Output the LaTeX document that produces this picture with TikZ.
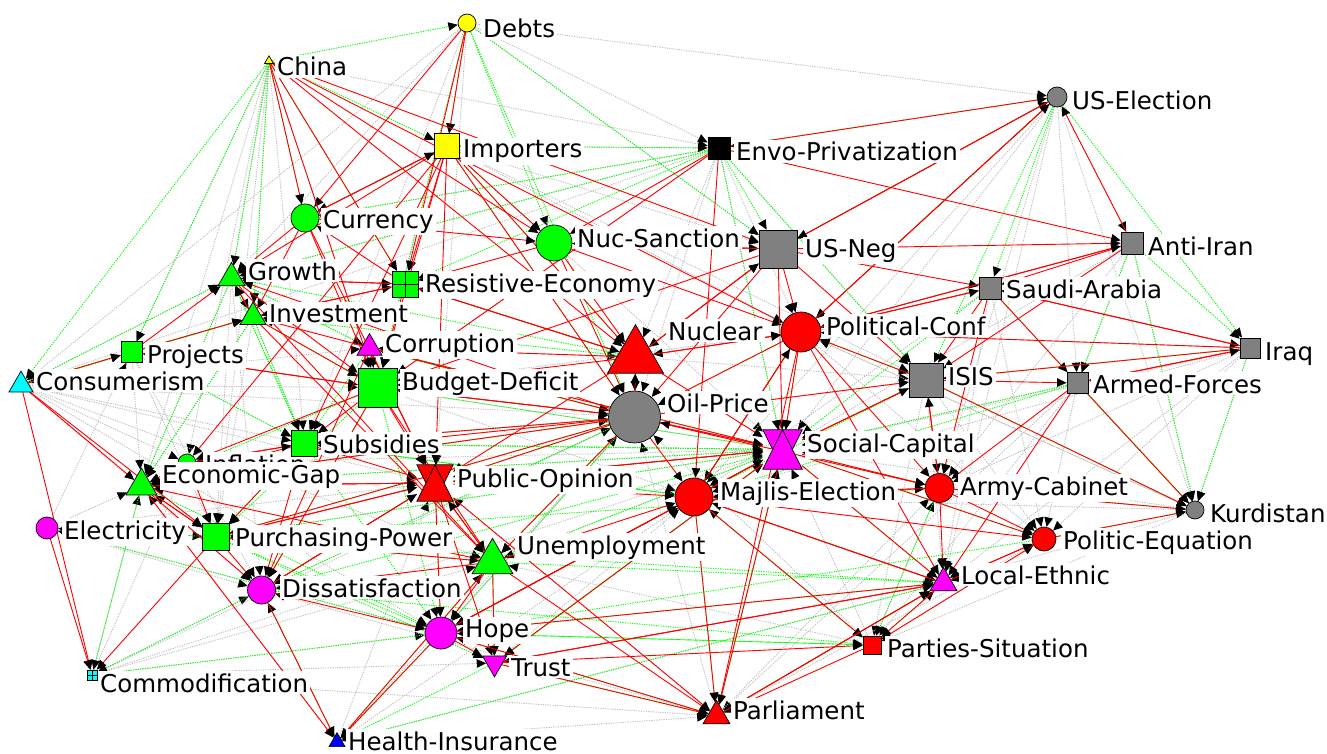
\documentclass[tikz,border=0pt]{standalone}
\usepackage{fontspec}
\setmainfont{DejaVu Sans}
\usetikzlibrary{shapes.geometric,arrows.meta}
\definecolor{nRed}{RGB}{255,0,0}
\definecolor{nGreen}{RGB}{0,255,0}
\definecolor{nGray}{RGB}{128,128,128}
\definecolor{nYellow}{RGB}{255,255,0}
\definecolor{nMagenta}{RGB}{255,0,255}
\definecolor{nCyan}{RGB}{0,255,255}
\definecolor{nBlue}{RGB}{0,0,255}
\definecolor{eGray}{RGB}{190,190,190}
\pgfdeclarelayer{edges}
\pgfsetlayers{edges,main}
\begin{document}
\begin{tikzpicture}[x=1pt,y=-1pt,
 circ/.style={circle,draw,line width=0.7pt,inner sep=0pt,minimum size=#1},
 sq/.style={rectangle,draw,line width=0.7pt,inner sep=0pt,minimum size=#1},
 tri/.style={regular polygon,regular polygon sides=3,draw,line width=0.7pt,inner sep=0pt,minimum size={1.1547*#1}},
 hg/.style={rectangle,inner sep=0pt,minimum width=#1,minimum height=#1},
 lab/.style={anchor=base west,fill=white,inner sep=2pt,font={\fontsize{24.5}{26}\selectfont}},
 edgetip/.style={-{Triangle[length=9.5pt,width=8.5pt,color=black]}},
 redE/.style={edgetip,draw=nRed,line width=0.9pt},
 greenE/.style={edgetip,draw=nGreen,line width=0.9pt,dash pattern=on 1.2pt off 1.2pt},
 grayE/.style={edgetip,draw=eGray,line width=0.9pt,dash pattern=on 1.2pt off 1.2pt}]
 \useasboundingbox (0,0) rectangle (1327,754);
 \node[circ=18,fill=nGreen] (infl) at (187,463) {};
 \node[lab] (infl-l) at (203,473) {Inflation};
 \node[circ=18,fill=nYellow] (debt) at (467,23) {};
 \node[tri=9,fill=nYellow] (china) at (269,61) {};
 \node[sq=25,fill=nYellow] (imp) at (447,146) {};
 \node[sq=22,fill=black] (envo) at (719,148) {};
 \node[circ=20,fill=nGray] (usel) at (1057,97) {};
 \node[circ=28,fill=nGreen] (cur) at (305,218) {};
 \node[circ=36,fill=nGreen] (nucs) at (554,243) {};
 \node[sq=38,fill=nGray] (usneg) at (778,249) {};
 \node[sq=22,fill=nGray] (anti) at (1132,243) {};
 \node[tri=27,fill=nGreen] (grow) at (231.5,278) {};
 \node[sq=26,fill=nGreen] (resi) at (405,284) {};
 \node[sq=22,fill=nGray] (saudi) at (990,288) {};
 \node[tri=26,fill=nGreen] (inv) at (253,317) {};
 \node[tri=56,fill=nRed] (nuc) at (635.5,357) {};
 \node[circ=40,fill=nRed] (pconf) at (801,332) {};
 \node[tri=25,fill=nMagenta] (corr) at (369.5,348) {};
 \node[sq=21,fill=nGreen] (proj) at (131.5,352) {};
 \node[sq=20,fill=nGray] (iraq) at (1250,348) {};
 \node[tri=24,fill=nCyan] (cons) at (21,385) {};
 \node[sq=39,fill=nGreen] (budg) at (377.5,387.5) {};
 \node[sq=34,fill=nGray] (isis) at (926,380) {};
 \node[sq=21,fill=nGray] (armed) at (1077.5,383) {};
 \node[circ=52,fill=nGray] (oil) at (634.5,417) {};
 \node[sq=26,fill=nGreen] (subs) at (304.5,443.5) {};
 \node[hg=39] (soc) at (782.5,449.5) {};
 \node[tri=31,fill=nGreen] (egap) at (141.5,486) {};
 \node[hg=36] (pop) at (435,483) {};
 \node[circ=38,fill=nRed] (majl) at (694,497) {};
 \node[circ=29,fill=nRed] (army) at (939.5,488) {};
 \node[circ=18,fill=nGray] (kurd) at (1195,510) {};
 \node[circ=22,fill=nMagenta] (elec) at (47,528) {};
 \node[sq=27,fill=nGreen] (ppow) at (216,537) {};
 \node[circ=24,fill=nRed] (peq) at (1044,539) {};
 \node[tri=41,fill=nGreen] (unemp) at (492.5,562) {};
 \node[tri=27,fill=nMagenta] (local) at (943.5,583) {};
 \node[circ=28,fill=nMagenta] (diss) at (261.5,590) {};
 \node[circ=32,fill=nMagenta] (hope) at (441,633) {};
 \node[sq=18,fill=nRed] (party) at (872,645) {};
 \node[tri=24,fill=nMagenta,shape border rotate=180] (trust) at (494.5,663) {};
 \node[sq=10,fill=nCyan] (comm) at (92,675) {};
 \node[tri=27,fill=nRed] (parl) at (716.5,716) {};
 \node[tri=16,fill=nBlue] (health) at (337,742) {};
 \draw[fill=nMagenta,line width=0.7pt] (soc.north west) -- (soc.north east) -- (soc.south) -- cycle;
 \draw[fill=nMagenta,line width=0.7pt] (soc.south west) -- (soc.south east) -- (soc.north) -- cycle;
 \draw[fill=nRed,line width=0.7pt] (pop.north west) -- (pop.north east) -- (pop.south) -- cycle;
 \draw[fill=nRed,line width=0.7pt] (pop.south west) -- (pop.south east) -- (pop.north) -- cycle;
 \draw[line width=0.7pt] (resi.north) -- (resi.south) (resi.west) -- (resi.east);
 \draw[line width=0.5pt] (comm.north) -- (comm.south) (comm.west) -- (comm.east);
 \begin{pgfonlayer}{edges}
 \foreach \a/\b in {debt/usel,debt/grow,debt/budg,debt/pop,debt/envo,debt/usneg,debt/subs,debt/cons,
  china/envo,china/proj,china/egap,china/subs,china/infl,china/grow,china/inv,china/budg,china/ppow,
  imp/pconf,imp/usneg,imp/soc,imp/isis,
  envo/imp,envo/nuc,envo/pconf,envo/soc,envo/oil,envo/grow,envo/cur,envo/budg,envo/isis,envo/cons,
  usel/anti,usel/armed,usel/local,usel/soc,usel/kurd,usel/army,usel/majl,
  anti/armed,anti/kurd,anti/army,anti/soc,
  saudi/local,saudi/peq,saudi/majl,
  iraq/kurd,iraq/local,iraq/army,iraq/soc,iraq/pconf,iraq/majl,iraq/peq,
  armed/peq,armed/soc,armed/parl,armed/party,
  isis/peq,isis/local,isis/party,
  kurd/local,kurd/soc,kurd/majl,kurd/pconf,kurd/party,
  cons/grow,cons/inv,cons/subs,cons/budg,cons/diss,cons/unemp,cons/pop,cons/oil,cons/hope,cons/infl,cons/corr,
  elec/ppow,elec/diss,elec/egap,elec/proj,elec/hope,elec/pop,
  comm/diss,comm/unemp,comm/soc,comm/oil,comm/hope,comm/trust,comm/parl,comm/infl,comm/egap,
  health/diss,health/egap,health/local,health/parl,health/pop,health/majl,health/oil,
  parl/local,parl/peq,parl/army,parl/hope,parl/diss,parl/oil,parl/soc,parl/pop,
  party/army,party/peq,party/soc,party/majl,party/oil,party/unemp,
  hope/oil,trust/soc,trust/majl,trust/local,
  proj/egap,proj/ppow,proj/subs,proj/diss,
  grow/ppow,grow/egap,grow/diss,grow/corr,
  inv/subs,inv/egap,inv/ppow,corr/nuc,corr/oil,
  subs/oil,subs/soc,subs/majl,budg/majl,budg/soc,budg/pconf,
  nuc/usneg,nuc/isis,oil/isis,oil/army,pconf/peq,pconf/kurd,majl/army,unemp/soc,
  ppow/soc,diss/oil,egap/oil,egap/soc,infl/oil,infl/soc}
  \draw[grayE] (\a) -- (\b);
 \foreach \a/\b in {china/cons,china/debt,china/grow,china/inv,china/cur,china/imp,china/proj,china/resi,
  debt/nucs,debt/usneg,debt/imp,debt/budg,debt/oil,
  imp/nucs,imp/oil,imp/envo,imp/nuc,imp/cur,
  envo/cur,envo/resi,envo/usneg,envo/isis,envo/grow,envo/soc,
  usel/usneg,usel/isis,usel/iraq,usel/pconf,usel/saudi,usel/envo,
  anti/iraq,anti/armed,anti/kurd,saudi/kurd,saudi/soc,iraq/isis,iraq/kurd,
  armed/kurd,armed/soc,armed/majl,isis/kurd,isis/soc,isis/majl,
  pconf/oil,pconf/soc,pconf/majl,pconf/isis,
  nuc/oil,nuc/resi,nuc/inv,nuc/grow,
  oil/budg,oil/pop,oil/hope,oil/unemp,oil/diss,oil/egap,oil/subs,oil/ppow,oil/corr,
  budg/ppow,budg/egap,budg/diss,budg/hope,
  subs/hope,subs/ppow,subs/grow,subs/soc,subs/majl,
  soc/hope,soc/trust,soc/army,soc/peq,soc/local,soc/subs,soc/unemp,soc/budg,
  majl/local,majl/parl,majl/party,majl/subs,
  pop/hope,pop/diss,pop/soc,unemp/trust,unemp/local,unemp/ppow,
  hope/comm,hope/health,hope/local,hope/party,hope/elec,
  diss/comm,diss/health,diss/party,diss/soc,
  trust/parl,trust/health,trust/soc,
  ppow/hope,ppow/elec,ppow/trust,ppow/soc,
  egap/hope,egap/comm,egap/soc,cons/grow,cons/proj,cons/inv,
  grow/subs,grow/corr,grow/egap,inv/budg,inv/subs,inv/egap,
  proj/inv,proj/subs,corr/subs,corr/soc,corr/oil,
  local/parl,party/local,army/kurd,peq/kurd,army/party,parl/soc,health/unemp,
  local/health,party/hope,parl/hope,peq/hope,army/ppow,local/ppow}
  \draw[greenE] (\a) -- (\b);
 \foreach \a/\b in {debt/imp,debt/cur,debt/resi,
  china/nucs,china/nuc,china/usneg,china/resi,china/pconf,china/budg,china/cur,
  imp/cur,imp/resi,imp/nuc,imp/budg,imp/oil,imp/pop,imp/grow,imp/subs,imp/nucs,imp/infl,
  cur/grow,cur/inv,cur/budg,cur/imp,cur/pop,cur/nucs,
  nucs/oil,nucs/nuc,nucs/usneg,nucs/resi,nucs/pconf,
  envo/usel,envo/budg,envo/majl,envo/nucs,envo/anti,
  usneg/usel,usneg/anti,usneg/nuc,usneg/pconf,usneg/oil,usneg/soc,usneg/isis,usneg/saudi,usneg/nucs,usneg/budg,
  usel/pconf,usel/usneg,anti/saudi,anti/isis,anti/pconf,anti/usel,
  saudi/isis,saudi/armed,saudi/iraq,saudi/pconf,saudi/army,
  iraq/armed,iraq/isis,iraq/saudi,iraq/pconf,
  isis/armed,isis/pconf,isis/army,isis/kurd,isis/soc,
  armed/kurd,armed/army,armed/local,armed/iraq,
  pconf/soc,pconf/majl,pconf/parl,pconf/army,pconf/local,pconf/usel,pconf/oil,pconf/nuc,pconf/saudi,pconf/anti,
  nuc/oil,nuc/pconf,nuc/budg,nuc/soc,nuc/pop,nuc/usneg,nuc/corr,nuc/resi,
  oil/budg,oil/subs,oil/unemp,oil/infl,oil/ppow,oil/egap,oil/soc,oil/majl,oil/grow,oil/inv,oil/nuc,oil/pop,oil/isis,oil/army,
  budg/subs,budg/infl,budg/unemp,budg/proj,budg/corr,budg/pop,budg/oil,budg/diss,
  subs/ppow,subs/egap,subs/diss,subs/infl,subs/pop,
  soc/majl,soc/pop,soc/hope,soc/trust,soc/isis,soc/peq,soc/local,soc/parl,soc/army,soc/oil,
  pop/majl,pop/hope,pop/trust,pop/diss,pop/unemp,pop/parl,pop/soc,pop/egap,pop/ppow,
  majl/parl,majl/peq,majl/army,majl/local,majl/party,majl/soc,majl/pconf,majl/hope,
  army/peq,army/local,army/kurd,army/isis,army/majl,
  peq/local,peq/party,peq/kurd,
  local/party,local/parl,local/trust,local/majl,local/peq,
  unemp/hope,unemp/diss,unemp/trust,unemp/health,unemp/egap,unemp/parl,unemp/pop,unemp/majl,
  hope/trust,hope/health,hope/parl,hope/local,hope/majl,
  diss/health,diss/hope,diss/pop,trust/parl,trust/party,trust/local,
  ppow/comm,ppow/diss,ppow/egap,ppow/pop,ppow/unemp,
  cons/comm,cons/egap,cons/ppow,cons/proj,elec/comm,
  egap/diss,egap/health,egap/ppow,egap/pop,infl/ppow,infl/egap,infl/subs,
  grow/inv,grow/unemp,grow/budg,grow/resi,inv/unemp,inv/grow,inv/resi,inv/budg,
  proj/grow,proj/budg,proj/inv,corr/pop,corr/diss,corr/budg,corr/soc,
  resi/grow,resi/inv,resi/budg,resi/nuc,resi/cur,party/parl,parl/local}
  \draw[redE] (\a) -- (\b);
 \end{pgfonlayer}
 \node[lab] (debt-l) at (481,38) {Debts};
 \node[lab] (china-l) at (275,76) {China};
 \node[lab] (imp-l) at (461,158) {Importers};
 \node[lab] (envo-l) at (734,161) {Envo-Privatization};
 \node[lab] (usel-l) at (1070,110) {US-Election};
 \node[lab] (cur-l) at (321,228) {Currency};
 \node[lab] (nucs-l) at (575,247) {Nuc-Sanction};
 \node[lab] (usneg-l) at (803,257) {US-Neg};
 \node[lab] (anti-l) at (1146,255) {Anti-Iran};
 \node[lab] (grow-l) at (246,280) {Growth};
 \node[lab] (resi-l) at (423,292) {Resistive-Economy};
 \node[lab] (saudi-l) at (1004,298) {Saudi-Arabia};
 \node[lab] (inv-l) at (267,322) {Investment};
 \node[lab] (nuc-l) at (666,340) {Nuclear};
 \node[lab] (pconf-l) at (824,335) {Political-Conf};
 \node[lab] (corr-l) at (383,352) {Corruption};
 \node[lab] (proj-l) at (145,363) {Projects};
 \node[lab] (iraq-l) at (1263,360) {Iraq};
 \node[lab] (cons-l) at (34,390) {Consumerism};
 \node[lab] (budg-l) at (400,390) {Budget-Deficit};
 \node[lab] (isis-l) at (946,385) {ISIS};
 \node[lab] (armed-l) at (1091,393) {Armed-Forces};
 \node[lab] (oil-l) at (665,412) {Oil-Price};
 \node[lab] (subs-l) at (321,453) {Subsidies};
 \node[lab] (soc-l) at (805,452) {Social-Capital};
 \node[lab] (egap-l) at (160,483) {Economic-Gap};
 \node[lab] (pop-l) at (455,487) {Public-Opinion};
 \node[lab] (majl-l) at (718,500) {Majlis-Election};
 \node[lab] (army-l) at (958,495) {Army-Cabinet};
 \node[lab] (kurd-l) at (1208,522) {Kurdistan};
 \node[lab] (elec-l) at (62,539) {Electricity};
 \node[lab] (ppow-l) at (233,546) {Purchasing-Power};
 \node[lab] (peq-l) at (1061,549) {Politic-Equation};
 \node[lab] (unemp-l) at (515,554) {Unemployment};
 \node[lab] (local-l) at (959,584) {Local-Ethnic};
 \node[lab] (diss-l) at (280,597) {Dissatisfaction};
 \node[lab] (hope-l) at (463,637) {Hope};
 \node[lab] (party-l) at (885,657) {Parties-Situation};
 \node[lab] (trust-l) at (509,676) {Trust};
 \node[lab] (comm-l) at (98,692) {Commodification};
 \node[lab] (parl-l) at (731,719) {Parliament};
 \node[lab] (health-l) at (346,750) {Health-Insurance};
\end{tikzpicture}
\end{document}
